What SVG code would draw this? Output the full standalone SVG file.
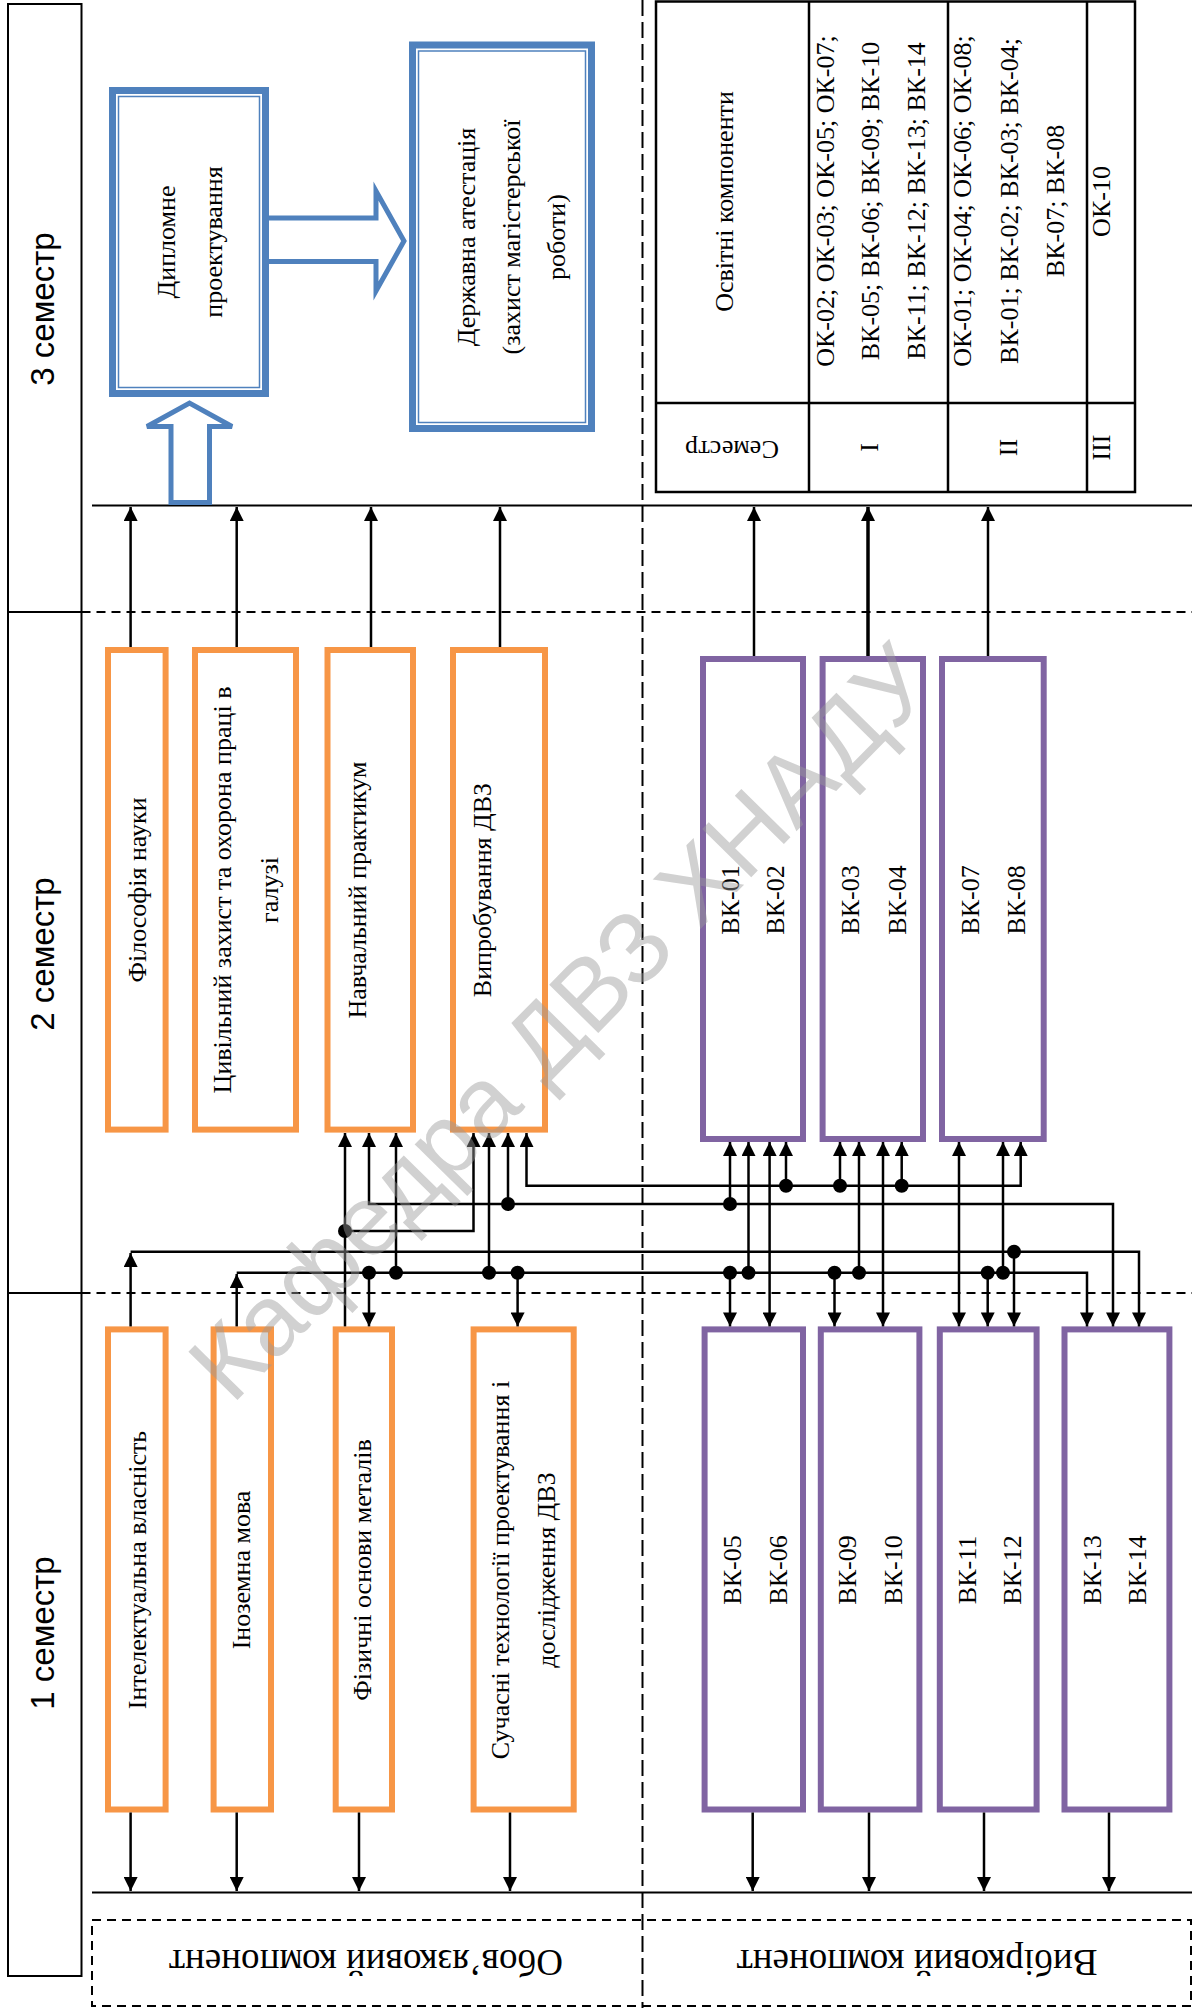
<svg xmlns="http://www.w3.org/2000/svg" width="1192" height="2008" viewBox="0 0 1192 2008">
<defs>
<style>
.sep{stroke:#000;stroke-width:2;fill:none}
.dash{stroke:#000;stroke-width:2;stroke-dasharray:9 6;fill:none}
.vdash{stroke:#000;stroke-width:2;stroke-dasharray:16 6;fill:none}
.ob{fill:#fff;stroke:#F79646;stroke-width:6}
.vb{fill:#fff;stroke:#8064A2;stroke-width:6}
.bb{fill:#fff;stroke:#4F81BD;stroke-width:7}
.bi{fill:none;stroke:#4F81BD;stroke-width:1.5}
.barrow{fill:#fff;stroke:#4F81BD;stroke-width:5;stroke-linejoin:miter}
.tbl{fill:none;stroke:#000;stroke-width:2.5}
.t{font-family:"Liberation Serif","Times New Roman",serif;font-size:26px;fill:#000;text-anchor:middle;dominant-baseline:central}
.big{font-size:37px}
.s{font-family:"Liberation Sans",Arial,sans-serif;font-size:33px;fill:#000;text-anchor:middle;dominant-baseline:central}
.c{stroke:#000;stroke-width:2.5;fill:none}
.a{marker-end:url(#ah)}
.ab{marker-start:url(#ah);marker-end:url(#ah)}
.wm{font-family:"Liberation Sans",Arial,sans-serif;font-size:100px;fill:#9a9a9a;opacity:0.45;text-anchor:middle;dominant-baseline:central}
</style>
<marker id="ah" viewBox="0 0 14 14" refX="14" refY="7" markerWidth="14" markerHeight="14" markerUnits="userSpaceOnUse" orient="auto-start-reverse"><path d="M0,0L14,7L0,14z" fill="#000"/></marker>
</defs>
<rect width="1192" height="2008" fill="#fff"/>

<g id="frame">
<rect x="8" y="4" width="73.5" height="1972" class="sep"/>
<line x1="8" y1="612" x2="81.5" y2="612" class="sep"/>
<line x1="8" y1="1293" x2="81.5" y2="1293" class="sep"/>
<line x1="81.5" y1="612" x2="1192" y2="612" class="dash"/>
<line x1="81.5" y1="1293" x2="1192" y2="1293" class="dash"/>
<line x1="642.5" y1="0" x2="642.5" y2="2008" class="vdash"/>
<line x1="92" y1="505.5" x2="1192" y2="505.5" class="sep"/>
<line x1="92" y1="1892.5" x2="1192" y2="1892.5" class="sep"/>
<rect x="92" y="1920" width="1099" height="86" class="dash"/>
<text class="s" transform="translate(42,309) rotate(-90)">3 семестр</text>
<text class="s" transform="translate(42,954) rotate(-90)">2 семестр</text>
<text class="s" transform="translate(42,1633) rotate(-90)">1 семестр</text>
<text class="t big" transform="translate(366,1962) rotate(180)">Обов’язковий компонент</text>
<text class="t big" transform="translate(917,1962) rotate(180)">Вибірковий компонент</text>
</g>

<g id="table">
<rect x="656" y="1.5" width="479" height="490.5" class="tbl"/>
<line x1="809" y1="1.5" x2="809" y2="492" class="tbl"/>
<line x1="948" y1="1.5" x2="948" y2="492" class="tbl"/>
<line x1="1087" y1="1.5" x2="1087" y2="492" class="tbl" stroke-width="3"/>
<line x1="656" y1="403" x2="1135" y2="403" class="tbl"/>
<text class="t" transform="translate(724.5,201.5) rotate(-90)">Освітні компоненти</text>
<text class="t" transform="translate(732,449) rotate(180)">Семестр</text>
<text class="t" transform="translate(825,201) rotate(-90)">ОК-02; ОК-03; ОК-05; ОК-07;</text>
<text class="t" transform="translate(870.5,201) rotate(-90)">ВК-05; ВК-06; ВК-09; ВК-10</text>
<text class="t" transform="translate(916,201) rotate(-90)">ВК-11; ВК-12; ВК-13; ВК-14</text>
<text class="t" transform="translate(869,447.5) rotate(-90)">I</text>
<text class="t" transform="translate(962,201) rotate(-90)">ОК-01; ОК-04; ОК-06; ОК-08;</text>
<text class="t" transform="translate(1009,201) rotate(-90)">ВК-01; ВК-02; ВК-03; ВК-04;</text>
<text class="t" transform="translate(1055.5,201) rotate(-90)">ВК-07; ВК-08</text>
<text class="t" transform="translate(1008,447.5) rotate(-90)">II</text>
<text class="t" transform="translate(1101,201.5) rotate(-90)">ОК-10</text>
<text class="t" transform="translate(1101,447.5) rotate(-90)">III</text>
</g>

<g id="arrow-right">
<path class="barrow" d="M262,218 L376,218 L376,191 L404,241 L376,291 L376,261.5 L262,261.5"/>
</g>
<g id="diploma">
<rect x="112.5" y="90.5" width="153" height="303" class="bb"/>
<rect x="118.5" y="96.5" width="141" height="291" class="bi"/>
<text class="t" transform="translate(166,242) rotate(-90)">Дипломне</text>
<text class="t" transform="translate(213,242) rotate(-90)">проектування</text>
</g>
<g id="attestation">
<rect x="412.5" y="45" width="179" height="383.5" class="bb"/>
<rect x="418.5" y="51" width="167" height="371.5" class="bi"/>
<text class="t" transform="translate(466,237) rotate(-90)">Державна атестація</text>
<text class="t" transform="translate(511,237) rotate(-90)">(захист магістерської</text>
<text class="t" transform="translate(556,237) rotate(-90)">роботи)</text>
</g>
<g id="arrow-up">
<polygon class="barrow" points="171,502.5 171,426.5 147,426.5 189.5,403 232,426.5 209.5,426.5 209.5,502.5"/>
</g>

<g id="s2-philosophy"><rect x="108" y="650" width="57.6" height="479.6" class="ob"/>
<text class="t" transform="translate(137,890) rotate(-90)">Філософія науки</text></g>
<g id="s2-civil"><rect x="195" y="650" width="101" height="479.6" class="ob"/>
<text class="t" transform="translate(222,890) rotate(-90)">Цивільний захист та охорона праці в</text>
<text class="t" transform="translate(269,890) rotate(-90)">галузі</text></g>
<g id="s2-practicum"><rect x="327.5" y="650" width="85.5" height="479.6" class="ob"/>
<text class="t" transform="translate(357,890) rotate(-90)">Навчальний практикум</text></g>
<g id="s2-testing"><rect x="453" y="650" width="92" height="479.6" class="ob"/>
<text class="t" transform="translate(482,890) rotate(-90)">Випробування ДВЗ</text></g>

<g id="s1-ip"><rect x="108" y="1329.4" width="57.6" height="480.1" class="ob"/>
<text class="t" transform="translate(137,1570) rotate(-90)">Інтелектуальна власність</text></g>
<g id="s1-lang"><rect x="213.6" y="1329.4" width="57.4" height="480.1" class="ob"/>
<text class="t" transform="translate(241,1570) rotate(-90)">Іноземна мова</text></g>
<g id="s1-metals"><rect x="335.7" y="1329.4" width="56.3" height="480.1" class="ob"/>
<text class="t" transform="translate(362,1570) rotate(-90)">Фізичні основи металів</text></g>
<g id="s1-tech"><rect x="473.6" y="1329.4" width="100.1" height="480.1" class="ob"/>
<text class="t" transform="translate(500.5,1570) rotate(-90)">Сучасні технології проектування і</text>
<text class="t" transform="translate(546,1570) rotate(-90)">дослідження ДВЗ</text></g>

<g id="s2-vk0102"><rect x="703" y="659" width="100" height="480" class="vb"/>
<text class="t" transform="translate(730,900) rotate(-90)">ВК-01</text>
<text class="t" transform="translate(775.5,900) rotate(-90)">ВК-02</text></g>
<g id="s2-vk0304"><rect x="822.6" y="659" width="100.4" height="480" class="vb"/>
<text class="t" transform="translate(850,900) rotate(-90)">ВК-03</text>
<text class="t" transform="translate(897,900) rotate(-90)">ВК-04</text></g>
<g id="s2-vk0708"><rect x="942" y="659" width="101.7" height="480" class="vb"/>
<text class="t" transform="translate(970,900) rotate(-90)">ВК-07</text>
<text class="t" transform="translate(1016,900) rotate(-90)">ВК-08</text></g>

<g id="s1-vk0506"><rect x="704.6" y="1329.4" width="98.4" height="480.1" class="vb"/>
<text class="t" transform="translate(732,1570) rotate(-90)">ВК-05</text>
<text class="t" transform="translate(778,1570) rotate(-90)">ВК-06</text></g>
<g id="s1-vk0910"><rect x="820.8" y="1329.4" width="98.6" height="480.1" class="vb"/>
<text class="t" transform="translate(847.5,1570) rotate(-90)">ВК-09</text>
<text class="t" transform="translate(893.5,1570) rotate(-90)">ВК-10</text></g>
<g id="s1-vk1112"><rect x="939.8" y="1329.4" width="96.8" height="480.1" class="vb"/>
<text class="t" transform="translate(967,1570) rotate(-90)">ВК-11</text>
<text class="t" transform="translate(1012,1570) rotate(-90)">ВК-12</text></g>
<g id="s1-vk1314"><rect x="1064.5" y="1329.4" width="104.9" height="480.1" class="vb"/>
<text class="t" transform="translate(1092,1570) rotate(-90)">ВК-13</text>
<text class="t" transform="translate(1137.5,1570) rotate(-90)">ВК-14</text></g>

<g id="connectors">
<g class="c a" stroke-width="2">
<path d="M130.6,647V507"/><path d="M236.7,647V507"/><path d="M371,647V507"/><path d="M500,647V507"/>
<path d="M754,656V507"/><path d="M868,656V507" stroke-width="3.5"/><path d="M988,656V507"/>
<path d="M130.6,1812.5V1891"/><path d="M236.7,1812.5V1891"/><path d="M359,1812.5V1891"/><path d="M510,1812.5V1891"/>
<path d="M752.7,1812.5V1891"/><path d="M869,1812.5V1891"/><path d="M984,1812.5V1891"/><path d="M1109,1812.5V1891"/>
</g>
<g class="c a">
<path d="M345,1326.4V1133"/>
<path d="M396,1272.7V1133"/>
<path d="M345,1231H473.5V1133"/>
<path d="M489,1272.7V1133"/>
<path d="M508,1204V1133"/>
<path d="M130.6,1326.4V1253"/>
<path d="M130.6,1251.7H1139V1326.4"/>
<path d="M236.7,1326.4V1274"/>
<path d="M236.7,1272.7H1087V1326.4"/>
<path d="M369,1272.7V1326.4"/>
<path d="M517.6,1272.7V1326.4"/>
<path d="M730,1204V1142"/>
<path d="M748.5,1272.7V1142"/>
<path d="M786,1185.7V1142"/>
<path d="M840,1185.7V1142"/>
<path d="M859,1272.7V1142"/>
<path d="M901.7,1185.7V1142"/>
<path d="M1003,1272.7V1142"/>
<path d="M730,1272.7V1326.4"/>
<path d="M834.5,1272.7V1326.4"/>
<path d="M987.7,1272.7V1326.4"/>
<path d="M1014,1251.7V1326.4"/>
</g>
<g class="c ab">
<path d="M1113,1326.4V1204H369V1133"/>
<path d="M526.5,1133V1185.7H1020.7V1142"/>
<path d="M769.6,1326.4V1142"/>
<path d="M883,1326.4V1142"/>
<path d="M959,1326.4V1142"/>
</g>
<g fill="#000">
<circle cx="345" cy="1231" r="7"/><circle cx="508" cy="1204" r="7"/>
<circle cx="369" cy="1272.7" r="7"/><circle cx="396" cy="1272.7" r="7"/><circle cx="489" cy="1272.7" r="7"/><circle cx="517.6" cy="1272.7" r="7"/>
<circle cx="730" cy="1204" r="7"/>
<circle cx="786" cy="1185.7" r="7"/><circle cx="840" cy="1185.7" r="7"/><circle cx="901.7" cy="1185.7" r="7"/>
<circle cx="730" cy="1272.7" r="7"/><circle cx="748.5" cy="1272.7" r="7"/><circle cx="834.5" cy="1272.7" r="7"/><circle cx="859" cy="1272.7" r="7"/><circle cx="987.7" cy="1272.7" r="7"/><circle cx="1003" cy="1272.7" r="7"/>
<circle cx="1014" cy="1251.7" r="7"/>
</g>
</g>

<text class="wm" transform="translate(560,1022) rotate(-45.5)">Кафедра ДВЗ ХНАДУ</text>
</svg>
